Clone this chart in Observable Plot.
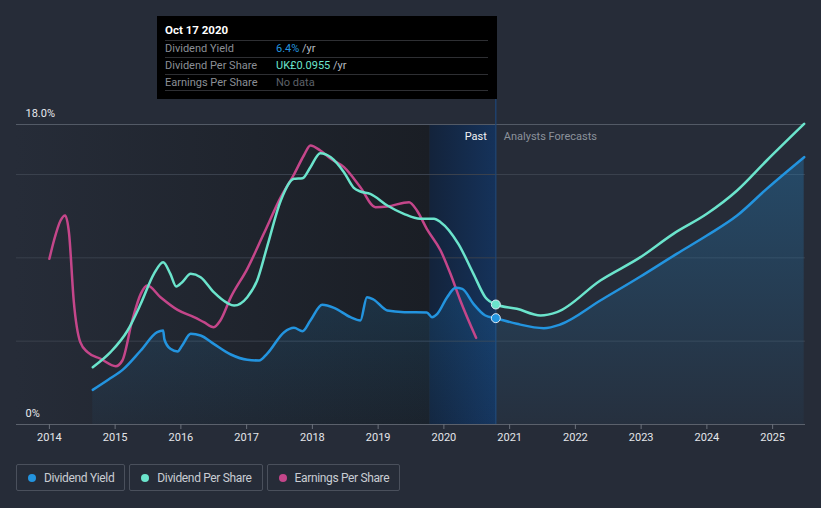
<!DOCTYPE html>
<html>
<head>
<meta charset="utf-8">
<script src="https://cdn.jsdelivr.net/npm/d3@7"></script>
<script src="https://cdn.jsdelivr.net/npm/@observablehq/plot@0.6"></script>
<style>
  html, body { margin: 0; padding: 0; background: #262c38; }
  body { font-family: Roboto, "Noto Sans", "DejaVu Sans", sans-serif; }
  #wrap { position: relative; width: 821px; height: 508px; overflow: hidden; background: #262c38; }
  #chart { position: absolute; left: 0; top: 0; }
  #tip { position: absolute; left: 157px; top: 16px; width: 340px; height: 83px; background: #000; box-sizing: border-box; }
  #tip .ttl { position: absolute; left: 8px; top: 7px; font-size: 11.5px; font-weight: 700; color: #fff; }
  #tip .row { position: absolute; left: 8px; width: 323px; height: 17px; border-top: 1px solid #2e2f33; font-size: 11px; line-height: 16px; }
  #tip .row .lab { position: absolute; left: 0; color: #8b8f96; }
  #tip .row .val { position: absolute; left: 111px; color: #b8bcc2; }
  #tip .bot { position: absolute; left: 8px; width: 323px; top: 74px; border-top: 1px solid #2e2f33; }
  #legend { position: absolute; left: 16px; top: 464px; display: flex; gap: 4px; }
  .lg { height: 27px; box-sizing: border-box; border: 1px solid #4a505c; border-radius: 2px; display: flex; align-items: center; padding: 0 10px 0 11px; font-size: 12px; letter-spacing: -0.35px; color: #c9cdd3; }
  .lg .sw { width: 8px; height: 8px; border-radius: 50%; margin-right: 8px; }
</style>
</head>
<body>
<div id="wrap">
  <div id="chart"></div>
  <div id="tip"></div>
  <div id="legend"></div>
</div>
<script>
// ---------- data ----------
// Dividend Yield (%), past
const yieldPastYears  = [2014.66, 2014.90, 2015.13, 2015.39, 2015.64, 2015.73, 2015.75, 2015.84, 2015.95, 2016.02, 2016.15, 2016.30, 2016.50, 2016.76, 2017.01, 2017.19, 2017.31, 2017.57, 2017.72, 2017.85, 2017.97, 2018.15, 2018.33, 2018.58, 2018.73, 2018.83, 2018.93, 2019.14, 2019.40, 2019.74, 2019.82, 2019.90, 2020.05, 2020.18, 2020.28, 2020.45, 2020.63, 2020.79];
const yieldPastValues = [2.08, 2.70, 3.34, 4.44, 5.54, 5.64, 5.10, 4.54, 4.38, 4.74, 5.44, 5.34, 4.84, 4.20, 3.88, 3.84, 4.24, 5.54, 5.80, 5.60, 6.24, 7.18, 7.00, 6.44, 6.24, 7.64, 7.50, 6.84, 6.74, 6.72, 6.44, 6.64, 7.64, 8.20, 8.14, 7.24, 6.54, 6.38];
// Dividend Yield (%), analysts forecasts
const yieldFcYears  = [2020.79, 2021.11, 2021.52, 2021.77, 2022.38, 2022.99, 2023.54, 2024.00, 2024.46, 2024.91, 2025.48];
const yieldFcValues = [6.38, 6.04, 5.78, 6.00, 7.44, 8.88, 10.24, 11.34, 12.54, 14.14, 16.04];

// Dividend Per Share (indexed onto the chart's vertical axis)
const dpsYears  = [2014.66, 2014.93, 2015.19, 2015.39, 2015.59, 2015.73, 2015.84, 2015.93, 2016.02, 2016.15, 2016.30, 2016.50, 2016.71, 2016.81, 2017.01, 2017.16, 2017.31, 2017.52, 2017.72, 2017.85, 2017.97, 2018.12, 2018.28, 2018.48, 2018.63, 2018.73, 2018.88, 2019.14, 2019.39, 2019.64, 2019.85, 2019.95, 2020.22, 2020.45, 2020.63, 2020.79, 2021.11, 2021.47, 2021.72, 2022.38, 2022.99, 2023.49, 2024.00, 2024.46, 2024.91, 2025.48];
const dpsValues = [3.44, 4.34, 5.64, 7.24, 9.04, 9.74, 9.04, 8.28, 8.54, 9.04, 8.84, 7.94, 7.28, 7.14, 7.64, 8.64, 10.64, 13.44, 14.74, 14.78, 15.44, 16.28, 16.04, 15.14, 14.20, 13.98, 13.84, 13.14, 12.64, 12.34, 12.34, 12.14, 10.84, 9.04, 7.64, 7.20, 6.94, 6.54, 6.74, 8.64, 10.04, 11.44, 12.64, 14.04, 15.84, 18.04];

// Earnings Per Share (indexed onto the chart's vertical axis)
const epsYears  = [2014.00, 2014.07, 2014.17, 2014.24, 2014.30, 2014.37, 2014.47, 2014.58, 2014.78, 2015.01, 2015.11, 2015.26, 2015.39, 2015.49, 2015.69, 2015.95, 2016.20, 2016.35, 2016.50, 2016.60, 2016.76, 2017.01, 2017.26, 2017.52, 2017.72, 2017.87, 2017.97, 2018.12, 2018.28, 2018.48, 2018.73, 2018.96, 2019.14, 2019.47, 2019.59, 2019.74, 2019.95, 2020.10, 2020.25, 2020.49];
const epsValues = [9.94, 11.04, 12.24, 12.54, 11.44, 7.44, 4.94, 4.34, 3.94, 3.50, 3.84, 6.24, 7.84, 8.34, 7.64, 6.88, 6.44, 6.14, 5.84, 6.24, 7.64, 9.34, 11.44, 13.64, 15.00, 16.14, 16.74, 16.44, 15.94, 15.44, 14.24, 13.04, 13.08, 13.34, 12.84, 11.74, 10.44, 9.04, 7.44, 5.20];

const xTickYears = [2014, 2015, 2016, 2017, 2018, 2019, 2020, 2021, 2022, 2023, 2024, 2025];
const yGridValues = [5, 10, 15];
const yLabelValues = [0, 18];
const yLabelTexts = ["0%", "18.0%"];
const nowYear = 2020.79;
const bandStartYear = 2019.79;

const seriesNames  = ["Dividend Yield", "Dividend Per Share", "Earnings Per Share"];
const seriesColors = ["#2394df", "#6be4cc", "#c4468a"];

const tipDate = "Oct 17 2020";
const tipValues = ["6.4%", "UK£0.0955", "No data"];

// ---------- build ----------
const zip = (xs, ys) => xs.map((x, i) => ({x, y: ys[i]}));
const yieldPast = zip(yieldPastYears, yieldPastValues);
const yieldFc = zip(yieldFcYears, yieldFcValues);
const yieldAll = yieldPast.concat(yieldFc.slice(1));
const dps = zip(dpsYears, dpsValues);
const eps = zip(epsYears, epsValues);
const nowDots = [
  {x: nowYear, y: yieldPastValues[yieldPastValues.length - 1], c: seriesColors[0]},
  {x: nowYear, y: dpsValues[dpsYears.indexOf(nowYear)], c: seriesColors[1]}
];

const plot = Plot.plot({
  width: 821,
  height: 450,
  marginLeft: 16,
  marginRight: 16,
  marginTop: 124,
  marginBottom: 26,
  style: {background: "transparent", fontFamily: "Roboto, 'Noto Sans', sans-serif", overflow: "visible"},
  x: {domain: [2013.5, 2025.5], axis: null},
  y: {domain: [0, 18], axis: null},
  marks: [
    Plot.rect([{x1: 2013.5, x2: bandStartYear}], {x1: "x1", x2: "x2", y1: 0, y2: 18, fill: "url(#pastGrad)"}),
    Plot.rect([{x1: bandStartYear, x2: nowYear}], {x1: "x1", x2: "x2", y1: 0, y2: 18, fill: "url(#bandGrad)"}),
    Plot.ruleY(yGridValues, {stroke: "#3a414d", strokeWidth: 1}),
    Plot.ruleY([18], {stroke: "#535a66", strokeWidth: 1}),
    Plot.ruleX([nowYear], {y1: 0, y2: 19.5, stroke: "#1d477a", strokeWidth: 1.2, clip: false}),
    Plot.areaY(yieldAll, {x: "x", y: "y", fill: "url(#yieldGrad)", curve: "monotone-x"}),
    Plot.ruleY([0], {stroke: "#5b616c", strokeWidth: 1}),
    Plot.ruleX(xTickYears, {y1: 0, y2: -0.3, stroke: "#6b717b", clip: false}),
    Plot.text(xTickYears, {x: d => d, y: 0, text: d => String(d), dy: 13, fill: "#e4e6ea", fontSize: 11, clip: false}),
    Plot.text(yLabelValues, {x: 2013.5, y: d => d, text: (d, i) => yLabelTexts[i], dx: 9, dy: -11, textAnchor: "start", fill: "#e8eaee", fontSize: 11}),
    Plot.text(["Past"], {x: nowYear, y: 18, text: d => d, dx: -9, dy: 12, textAnchor: "end", fill: "#f2f3f5", fontSize: 11}),
    Plot.text(["Analysts Forecasts"], {x: nowYear, y: 18, text: d => d, dx: 8, dy: 12, textAnchor: "start", fill: "#8c929b", fontSize: 11}),
    Plot.line(eps, {x: "x", y: "y", stroke: seriesColors[2], strokeWidth: 2.5, curve: "monotone-x"}),
    Plot.line(dps, {x: "x", y: "y", stroke: seriesColors[1], strokeWidth: 2.5, curve: "monotone-x"}),
    Plot.line(yieldAll, {x: "x", y: "y", stroke: seriesColors[0], strokeWidth: 2.5, curve: "monotone-x"}),
    Plot.dot(nowDots, {x: "x", y: "y", r: 4.5, fill: "c", stroke: "#dce8f4", strokeWidth: 1})
  ]
});

// gradients
const svg = d3.select(plot);
const defs = svg.insert("defs", ":first-child");
const pg = defs.append("linearGradient").attr("id", "pastGrad").attr("x1", 0).attr("x2", 1).attr("y1", 0).attr("y2", 0);
pg.append("stop").attr("offset", "0%").attr("stop-color", "#262c38");
pg.append("stop").attr("offset", "100%").attr("stop-color", "#1a1e25");
const bg = defs.append("linearGradient").attr("id", "bandGrad").attr("x1", 0).attr("x2", 1).attr("y1", 0).attr("y2", 0);
bg.append("stop").attr("offset", "0%").attr("stop-color", "#13233b");
bg.append("stop").attr("offset", "100%").attr("stop-color", "#15325a");
const yg = defs.append("linearGradient").attr("id", "yieldGrad").attr("gradientUnits", "userSpaceOnUse").attr("x1", 0).attr("x2", 0).attr("y1", 124).attr("y2", 424);
yg.append("stop").attr("offset", "0%").attr("stop-color", "#2394df").attr("stop-opacity", 0.32);
yg.append("stop").attr("offset", "100%").attr("stop-color", "#2394df").attr("stop-opacity", 0.04);

document.getElementById("chart").appendChild(plot);

// tooltip
const tip = document.getElementById("tip");
const ttl = document.createElement("div");
ttl.className = "ttl"; ttl.textContent = tipDate; tip.appendChild(ttl);
const valColors = [seriesColors[0], seriesColors[1], "#5d6168"];
seriesNames.forEach((name, i) => {
  const row = document.createElement("div");
  row.className = "row";
  row.style.top = (24 + i * 17) + "px";
  const lab = document.createElement("span"); lab.className = "lab"; lab.textContent = name;
  const val = document.createElement("span"); val.className = "val";
  const v = document.createElement("span"); v.textContent = tipValues[i]; v.style.color = valColors[i];
  val.appendChild(v);
  if (i < 2) { const u = document.createElement("span"); u.textContent = " /yr"; val.appendChild(u); }
  row.appendChild(lab); row.appendChild(val);
  tip.appendChild(row);
});
const bot = document.createElement("div"); bot.className = "bot"; tip.appendChild(bot);

// legend
const legend = document.getElementById("legend");
seriesNames.forEach((name, i) => {
  const item = document.createElement("div"); item.className = "lg";
  const sw = document.createElement("span"); sw.className = "sw"; sw.style.background = seriesColors[i];
  const t = document.createElement("span"); t.textContent = name;
  item.appendChild(sw); item.appendChild(t);
  legend.appendChild(item);
});
</script>
</body>
</html>
